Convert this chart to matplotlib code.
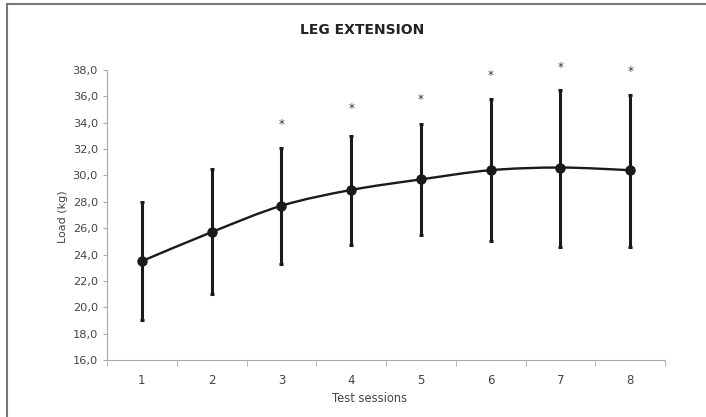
import matplotlib
matplotlib.use('Agg')
import matplotlib.pyplot as plt
from matplotlib.path import Path
from matplotlib.patches import PathPatch
from matplotlib.lines import Line2D

## Data
sessions = [1, 2, 3, 4, 5, 6, 7, 8]
load_mean = [23.5, 25.7, 27.7, 28.9, 29.7, 30.4, 30.6, 30.4]
load_upper = [28.0, 30.5, 32.1, 33.0, 33.9, 35.8, 36.5, 36.1]
load_lower = [19.0, 21.0, 23.3, 24.7, 25.5, 25.0, 24.6, 24.6]
star_sessions = [3, 4, 5, 6, 7, 8]
star_heights = [33.9, 35.1, 35.8, 37.6, 38.2, 37.9]
y_ticks = [16, 18, 20, 22, 24, 26, 28, 30, 32, 34, 36, 38]
##

plt.rcParams['font.family'] = ['DejaVu Sans']

fig = plt.figure(figsize=(7.06, 4.17), dpi=100)
ax = fig.add_axes([107 / 706, 1 - 360 / 417, (665 - 107) / 706, (360 - 70) / 417])

# Error bars (asymmetric)
err_lo = [m - lo for m, lo in zip(load_mean, load_lower)]
err_hi = [hi - m for m, hi in zip(load_mean, load_upper)]
ax.errorbar(sessions, load_mean, yerr=[err_lo, err_hi], fmt='none',
            ecolor='#1a1a1a', elinewidth=2.2, capsize=1.6, capthick=2.2, zorder=2)

# Smoothed line (Excel-style bezier through the points)
verts = [(sessions[0], load_mean[0])]
codes = [Path.MOVETO]
n = len(sessions)
for i in range(n - 1):
    p0 = (sessions[max(i - 1, 0)], load_mean[max(i - 1, 0)])
    p1 = (sessions[i], load_mean[i])
    p2 = (sessions[i + 1], load_mean[i + 1])
    p3 = (sessions[min(i + 2, n - 1)], load_mean[min(i + 2, n - 1)])
    c1 = (p1[0] + (p2[0] - p0[0]) / 6, p1[1] + (p2[1] - p0[1]) / 6)
    c2 = (p2[0] - (p3[0] - p1[0]) / 6, p2[1] - (p3[1] - p1[1]) / 6)
    verts += [c1, c2, p2]
    codes += [Path.CURVE4] * 3
ax.add_patch(PathPatch(Path(verts, codes), facecolor='none', edgecolor='#1a1a1a',
                       linewidth=1.7, zorder=3))
ax.plot(sessions, load_mean, 'o', color='#1a1a1a', markersize=6.5, zorder=4)

for s, h in zip(star_sessions, star_heights):
    ax.text(s, h, '*', ha='center', va='center', fontsize=8.5, color='#333333')

ax.set_xlim(0.5, 8.5)
ax.set_ylim(16, 38)
ax.set_yticks(y_ticks)
ax.set_yticklabels([('%.1f' % v).replace('.', ',') for v in y_ticks])
ax.set_xticks(sessions)
ax.set_xticks([0.5 + i for i in range(9)], minor=True)
ax.tick_params(axis='x', which='major', length=0, pad=10, labelsize=8.5, labelcolor='#444444')
ax.tick_params(axis='x', which='minor', length=4, color='#aaaaaa', direction='out')
ax.tick_params(axis='y', length=3, pad=3.5, color='#aaaaaa', labelsize=8.2, labelcolor='#444444')

for side in ['top', 'right']:
    ax.spines[side].set_visible(False)
for side in ['left', 'bottom']:
    ax.spines[side].set_color('#aaaaaa')
    ax.spines[side].set_linewidth(0.8)

ax.set_xlabel('Test sessions', fontsize=8.3, color='#444444')
ax.xaxis.set_label_coords((370 - 107) / (665 - 107), -(398 - 360) / (360 - 70))
ax.xaxis.label.set_va('center')
ax.set_ylabel('Load (kg)', fontsize=8, color='#444444')
ax.yaxis.set_label_coords(-(107 - 63) / (665 - 107), (360 - 217) / (360 - 70))
ax.yaxis.label.set_va('center')
fig.text(362 / 706, 1 - 30 / 417, 'LEG EXTENSION', ha='center', va='center',
         fontsize=10, fontweight='bold', color='#222222')

# Outer frame (only left and top visible in the reference)
fig.add_artist(Line2D([7 / 706, 7 / 706], [0, 1 - 4 / 417], color='#777777', linewidth=1.5))
fig.add_artist(Line2D([7 / 706, 1], [1 - 4 / 417, 1 - 4 / 417], color='#777777', linewidth=1.5))

fig.savefig('out.png', dpi=100)
